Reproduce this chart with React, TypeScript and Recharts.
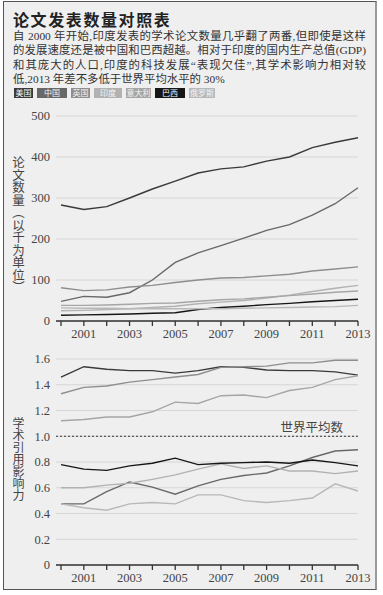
import { CartesianGrid, Line, LineChart, ReferenceLine, XAxis, YAxis } from "recharts";

const years = [2000, 2001, 2002, 2003, 2004, 2005, 2006, 2007, 2008, 2009, 2010, 2011, 2012, 2013];

// 论文数量（千篇）
const papersUS = [283, 272, 279, 300, 322, 341, 361, 371, 376, 390, 400, 423, 436, 447];
const papersChina = [48, 60, 58, 69, 100, 143, 166, 184, 202, 221, 235, 258, 286, 325];
const papersUK = [81, 74, 76, 83, 87, 94, 100, 105, 106, 110, 114, 122, 127, 132];
const papersIndia = [25, 26, 28, 30, 33, 36, 42, 46, 50, 56, 63, 72, 80, 87];
const papersItaly = [38, 38, 39, 41, 43, 44, 48, 52, 54, 58, 62, 66, 70, 73];
const papersBrazil = [14, 15, 16, 17, 19, 20, 28, 33, 36, 40, 43, 47, 50, 53];
const papersRussia = [32, 31, 31, 30, 30, 30, 30, 30, 31, 32, 33, 34, 35, 38];

// 学术引用影响力
const citeUS = [1.46, 1.54, 1.52, 1.51, 1.51, 1.49, 1.51, 1.54, 1.535, 1.515, 1.51, 1.51, 1.5, 1.475];
const citeChina = [0.475, 0.475, 0.57, 0.645, 0.605, 0.55, 0.615, 0.665, 0.695, 0.715, 0.77, 0.835, 0.885, 0.895];
const citeUK = [1.33, 1.38, 1.39, 1.42, 1.44, 1.46, 1.48, 1.535, 1.54, 1.545, 1.57, 1.57, 1.59, 1.59];
const citeIndia = [0.6, 0.6, 0.62, 0.635, 0.665, 0.7, 0.745, 0.785, 0.75, 0.77, 0.73, 0.73, 0.71, 0.73];
const citeItaly = [1.12, 1.13, 1.15, 1.15, 1.19, 1.265, 1.255, 1.315, 1.32, 1.3, 1.355, 1.38, 1.44, 1.47];
const citeBrazil = [0.78, 0.745, 0.735, 0.77, 0.79, 0.83, 0.78, 0.79, 0.795, 0.8, 0.79, 0.815, 0.795, 0.77];
const citeRussia = [0.475, 0.445, 0.425, 0.475, 0.485, 0.475, 0.545, 0.545, 0.5, 0.485, 0.5, 0.52, 0.63, 0.575];

const papersTicks = [0, 100, 200, 300, 400, 500];
const citeTicks = [0, 0.2, 0.4, 0.6, 0.8, 1.0, 1.2, 1.4, 1.6];

const countries = [
  { key: "us", name: "美国", color: "#3a3a3a", w: 19 },
  { key: "china", name: "中国", color: "#686868", w: 30 },
  { key: "uk", name: "英国", color: "#8e8e8e", w: 19 },
  { key: "india", name: "印度", color: "#b2b2b2", w: 28 },
  { key: "italy", name: "意大利", color: "#a6a6a6", w: 25 },
  { key: "brazil", name: "巴西", color: "#161616", w: 30 },
  { key: "russia", name: "俄罗斯", color: "#b8b8b8", w: 26 },
];

const papersData = years.map((year, i) => ({
  year,
  us: papersUS[i],
  china: papersChina[i],
  uk: papersUK[i],
  india: papersIndia[i],
  italy: papersItaly[i],
  brazil: papersBrazil[i],
  russia: papersRussia[i],
}));

const citeData = years.map((year, i) => ({
  year,
  us: citeUS[i],
  china: citeChina[i],
  uk: citeUK[i],
  india: citeIndia[i],
  italy: citeItaly[i],
  brazil: citeBrazil[i],
  russia: citeRussia[i],
}));

const serif = '"Liberation Serif", "Noto Sans CJK SC", serif';
const cjk = '"Noto Sans CJK SC", sans-serif';
const tickStyle = { fontSize: 12.5, fill: "#444", fontFamily: serif };
const yearLabel = (v: number) => (v % 2 === 1 ? String(v) : "");

// recharts wants the Line elements as direct children, so keep them as an array
const lines = countries.map((c) => (
  <Line
    key={c.key}
    type="linear"
    dataKey={c.key}
    stroke={c.color}
    strokeWidth={1.4}
    dot={false}
    isAnimationActive={false}
  />
));

const justified = { textAlign: "justify" as const, textAlignLast: "justify" as const };

export default function App() {
  return (
    <div style={{ position: "relative", width: 383, height: 595, background: "#fff", overflow: "hidden" }}>
      <style>{"body{margin:0}"}</style>
      <div
        style={{
          position: "absolute",
          left: 3,
          top: 1,
          width: 371,
          height: 587,
          background: "#efefef",
          border: "1px solid #555",
          borderRightWidth: 2,
          borderRightColor: "#999",
        }}
      />

      <div
        style={{
          position: "absolute",
          left: 13,
          top: 10,
          fontFamily: cjk,
          fontWeight: 700,
          fontSize: 16,
          lineHeight: "18px",
          color: "#222",
          letterSpacing: 1.6,
        }}
      >
        论文发表数量对照表
      </div>

      <div style={{ position: "absolute", left: 13, top: 29, width: 353, fontFamily: serif, fontSize: 11.4, color: "#333", lineHeight: "14.3px" }}>
        <div style={justified}>自 2000 年开始,印度发表的学术论文数量几乎翻了两番,但即使是这样</div>
        <div style={justified}>的发展速度还是被中国和巴西超越。相对于印度的国内生产总值(GDP)</div>
        <div style={justified}>和其庞大的人口,印度的科技发展“表现欠佳”,其学术影响力相对较</div>
        <div>低,2013 年差不多低于世界平均水平的 30%</div>
      </div>

      <div style={{ position: "absolute", left: 14, top: 88, display: "flex", gap: 4 }}>
        {countries.map((c) => (
          <div
            key={c.key}
            style={{
              width: c.w,
              height: 10,
              background: c.color,
              color: "#f4f4f4",
              fontFamily: cjk,
              fontSize: 8,
              lineHeight: "10px",
              textAlign: "center",
              whiteSpace: "nowrap",
            }}
          >
            {c.name}
          </div>
        ))}
      </div>

      <div style={{ position: "absolute", left: 11, top: 156, writingMode: "vertical-rl", fontFamily: cjk, fontSize: 12.5, color: "#444", lineHeight: "14px" }}>
        论文数量（以千为单位）
      </div>

      <div style={{ position: "absolute", left: 0, top: 100 }}>
        <LineChart width={383} height={246} data={papersData} margin={{ top: 16, right: 25, left: 0, bottom: 0 }}>
          <CartesianGrid vertical={false} stroke="#d6d6d6" strokeWidth={1} />
          <XAxis
            dataKey="year"
            type="number"
            domain={[2000, 2013]}
            ticks={years}
            interval={0}
            tickFormatter={yearLabel}
            padding={{ left: 5, right: 0 }}
            height={25}
            tick={tickStyle}
            tickSize={5}
            tickMargin={3}
            stroke="#333"
            strokeWidth={1.3}
          />
          <YAxis
            domain={[0, 500]}
            ticks={papersTicks}
            width={56}
            axisLine={false}
            tickLine={false}
            tickSize={0}
            tickMargin={6}
            tick={tickStyle}
          />
          {lines}
        </LineChart>
      </div>

      <div style={{ position: "absolute", left: 11, top: 417, writingMode: "vertical-rl", fontFamily: cjk, fontSize: 12, color: "#444", lineHeight: "14px" }}>
        学术引用影响力
      </div>

      <div style={{ position: "absolute", left: 0, top: 340 }}>
        <LineChart width={383} height={250} data={citeData} margin={{ top: 19, right: 25, left: 0, bottom: 0 }}>
          <CartesianGrid vertical={false} stroke="#d6d6d6" strokeWidth={1} />
          <XAxis
            dataKey="year"
            type="number"
            domain={[2000, 2013]}
            ticks={years}
            interval={0}
            tickFormatter={yearLabel}
            padding={{ left: 5, right: 0 }}
            height={25}
            tick={tickStyle}
            tickSize={5}
            tickMargin={3}
            stroke="#333"
            strokeWidth={1.3}
          />
          <YAxis
            domain={[0, 1.6]}
            ticks={citeTicks}
            tickFormatter={(v: number) => (v === 0 ? "0" : v.toFixed(1))}
            width={56}
            axisLine={false}
            tickLine={false}
            tickSize={0}
            tickMargin={6}
            tick={tickStyle}
          />
          <ReferenceLine
            y={1}
            stroke="#333"
            strokeDasharray="2 2"
            strokeWidth={1}
            label={{ value: "世界平均数", position: "insideTopRight", dy: -18, dx: -10, fill: "#444", fontSize: 12.5, fontFamily: cjk }}
          />
          {lines}
        </LineChart>
      </div>
    </div>
  );
}
